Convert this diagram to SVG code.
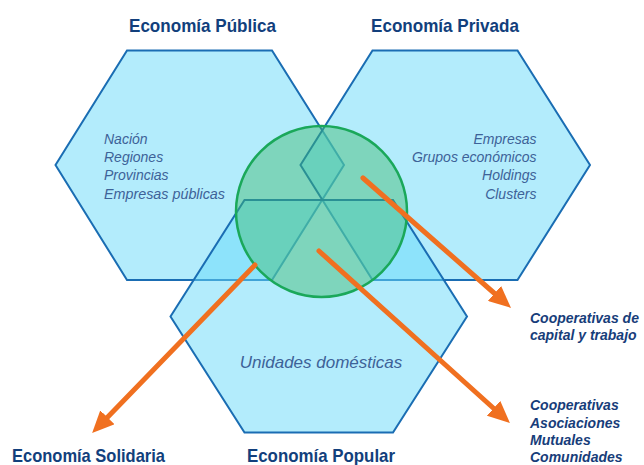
<svg xmlns="http://www.w3.org/2000/svg" width="644" height="465" viewBox="0 0 644 465">
<defs>
<style>
.hex{fill:#67d9fa;fill-opacity:0.5;stroke:#1a6db3;stroke-width:2;stroke-linejoin:miter}
.circ{fill:#3dba6e;fill-opacity:0.45;stroke:#1aa85a;stroke-width:2.5}
.title{font-family:"Liberation Sans",Arial,sans-serif;font-weight:bold;font-size:19px;fill:#123f7c}
.list{font-family:"Liberation Sans",Arial,sans-serif;font-style:italic;font-size:14px;fill:#3d6298}
.lbl{font-family:"Liberation Sans",Arial,sans-serif;font-style:italic;font-weight:bold;font-size:14px;fill:#173d7a}
.arrow{fill:none;stroke:#f07020;stroke-width:5;stroke-linecap:round}
</style>
<marker id="ah" markerUnits="userSpaceOnUse" markerWidth="22" markerHeight="20" refX="10" refY="10" orient="auto">
<path d="M0,0 L22,10 L0,20 z" fill="#f07020"/>
</marker>
</defs>
<rect width="644" height="465" fill="#ffffff"/>
<g id="publica">
<polygon class="hex" points="127,50.5 272,50.5 344,165 272,280 127,280 55.5,165"/>
<text class="title" x="129" y="32" textLength="147" lengthAdjust="spacingAndGlyphs">Economía Pública</text>
<text class="list" x="104" y="143.5">Nación</text>
<text class="list" x="104" y="161.5">Regiones</text>
<text class="list" x="104" y="180">Provincias</text>
<text class="list" x="104" y="198.5" textLength="121" lengthAdjust="spacingAndGlyphs">Empresas públicas</text>
</g>
<g id="privada">
<polygon class="hex" points="372.5,50.5 517.5,50.5 590,165 517.5,280 372.5,280 300.5,165"/>
<text class="title" x="371" y="32" textLength="148" lengthAdjust="spacingAndGlyphs">Economía Privada</text>
<g text-anchor="end">
<text class="list" x="536.5" y="143.5">Empresas</text>
<text class="list" x="536.5" y="161.5">Grupos económicos</text>
<text class="list" x="536.5" y="180">Holdings</text>
<text class="list" x="536.5" y="198.5">Clusters</text>
</g>
</g>
<g id="popular">
<polygon class="hex" points="244.5,200 393,200 467,316.5 393,432.5 244.5,432.5 170.5,316.5"/>
<text class="list" x="321" y="368" text-anchor="middle" style="font-size:17px">Unidades domésticas</text>
<text class="title" x="247" y="461.5" textLength="148" lengthAdjust="spacingAndGlyphs">Economía Popular</text>
</g>
<g id="centro">
<circle class="circ" cx="321.5" cy="211.5" r="85.5"/>
</g>
<g id="solidaria">
<text class="title" x="12" y="461.5" textLength="153" lengthAdjust="spacingAndGlyphs">Economía Solidaria</text>
</g>
<g id="coop-capital">
<text class="lbl" x="530" y="323">Cooperativas de</text>
<text class="lbl" x="530" y="340">capital y trabajo</text>
</g>
<g id="coop-social">
<text class="lbl" x="530" y="410">Cooperativas</text>
<text class="lbl" x="530" y="427.5">Asociaciones</text>
<text class="lbl" x="530" y="445">Mutuales</text>
<text class="lbl" x="530" y="462">Comunidades</text>
</g>
<g id="connectors">
<path class="arrow" d="M363,178 L502,300" marker-end="url(#ah)"/>
<path class="arrow" d="M319,251 L501,415" marker-end="url(#ah)"/>
<path class="arrow" d="M255,265 L100.5,424.5" marker-end="url(#ah)"/>
</g>
</svg>
